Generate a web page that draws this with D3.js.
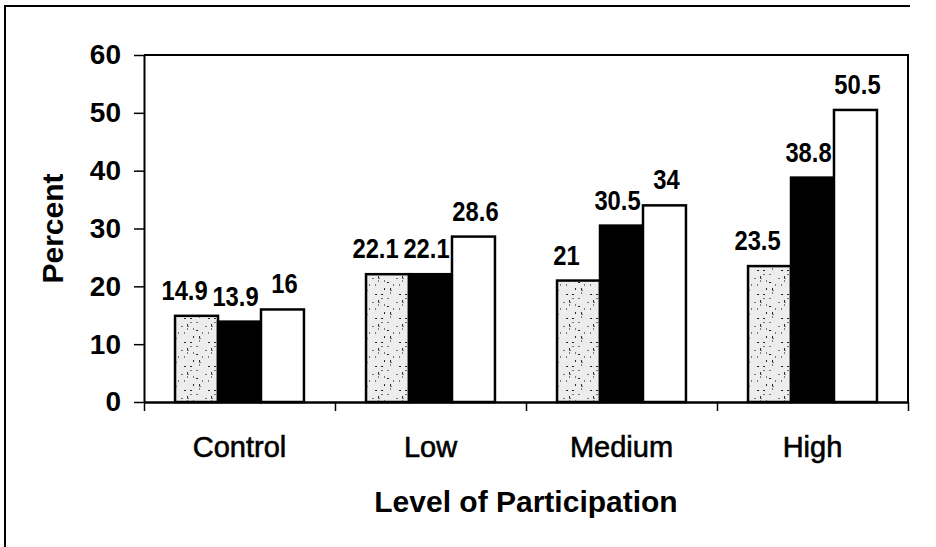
<!DOCTYPE html>
<html>
<head>
<meta charset="utf-8">
<script src="https://cdn.jsdelivr.net/npm/d3@7"></script>
<style>
  html, body { margin: 0; padding: 0; background: #fff; }
  svg { display: block; font-family: "Liberation Sans", Arial, sans-serif; }
</style>
</head>
<body>
<svg id="chart" width="936" height="547"></svg>
<script>
// Percent of participants by level of participation, three groups per level
const categories = ["Control", "Low", "Medium", "High"];
const seriesKeys = ["first", "second", "third"];
const firstValues  = [14.9, 22.1, 21, 23.5];
const secondValues = [13.9, 22.1, 30.5, 38.8];
const thirdValues  = [16, 28.6, 34, 50.5];
const yTicks = [0, 10, 20, 30, 40, 50, 60];
const yTitle = "Percent";
const xTitle = "Level of Participation";

const valuesByKey = { first: firstValues, second: secondValues, third: thirdValues };
const rows = categories.map((c, i) => ({
  category: c,
  items: seriesKeys.map(k => ({ key: k, value: valuesByKey[k][i] }))
}));

const svg = d3.select("#chart");
const plot = { left: 144, right: 908, top: 55, bottom: 402 };

// speckled light-grey fill for the first series
const defs = svg.append("defs");
const pat = defs.append("pattern")
  .attr("id", "speckle").attr("patternUnits", "userSpaceOnUse")
  .attr("width", 24).attr("height", 24);
pat.append("rect").attr("width", 24).attr("height", 24).attr("fill", "#ededed");
d3.range(16).forEach(i => {
  pat.append("rect")
    .attr("x", (i * 7 + (i % 3) * 5) % 24)
    .attr("y", (i * 11 + (i % 4) * 3) % 24)
    .attr("width", 1 + (i % 2)).attr("height", 1 + ((i + 1) % 2))
    .attr("fill", i % 3 === 0 ? "#222" : "#777");
});

const fills = { first: "url(#speckle)", second: "#000", third: "#fff" };

const x0 = d3.scaleBand().domain(categories)
  .range([plot.left, plot.right]).paddingInner(0.325).paddingOuter(0.1625);
const x1 = d3.scaleBand().domain(seriesKeys).range([0, x0.bandwidth()]);
const y = d3.scaleLinear().domain([0, 60]).range([plot.bottom, plot.top]);

// outer frame (left and top edges)
svg.append("path").attr("d", "M5,547V6H910")
  .attr("fill", "none").attr("stroke", "#000").attr("stroke-width", 2);

// plot frame: top and right edges
svg.append("path")
  .attr("d", `M${plot.left},${plot.top}H${plot.right}V${plot.bottom}`)
  .attr("fill", "none").attr("stroke", "#000").attr("stroke-width", 2);

// bars
const groups = svg.append("g").selectAll("g").data(rows).join("g")
  .attr("transform", d => `translate(${x0(d.category)},0)`);

groups.selectAll("rect").data(d => d.items).join("rect")
  .attr("x", d => x1(d.key))
  .attr("y", d => y(d.value))
  .attr("width", x1.bandwidth())
  .attr("height", d => y(0) - y(d.value))
  .attr("fill", d => fills[d.key])
  .attr("stroke", "#000").attr("stroke-width", 2.5);

// value labels, set in a slightly condensed bold face
const labelShift = { first: -12, second: -4, third: 2 };
groups.selectAll("g.value").data(d => d.items).join("g")
  .attr("class", "value")
  .attr("transform", d =>
    `translate(${x1(d.key) + x1.bandwidth() / 2 + labelShift[d.key]},${y(d.value) - 16}) scale(0.88,1)`)
  .append("text")
  .attr("text-anchor", "middle")
  .attr("font-size", 27).attr("font-weight", "bold")
  .attr("fill", "#000")
  .text(d => d.value);

// y axis
const yAxis = svg.append("g").attr("transform", `translate(${plot.left},0)`)
  .call(d3.axisLeft(y).tickValues(yTicks).tickSize(10).tickSizeOuter(0).tickPadding(13));
yAxis.select(".domain").attr("stroke", "#000").attr("stroke-width", 2);
yAxis.selectAll(".tick line").attr("stroke", "#000").attr("stroke-width", 1.5);
yAxis.selectAll(".tick text")
  .attr("font-size", 28).attr("font-weight", "bold")
  .attr("font-family", "Liberation Sans, Arial, sans-serif").attr("fill", "#000");

// x axis: boundary ticks between categories
const xb = d3.scaleLinear().domain([0, categories.length]).range([plot.left, plot.right]);
const xAxis = svg.append("g").attr("transform", `translate(0,${plot.bottom})`)
  .call(d3.axisBottom(xb).tickValues(d3.range(categories.length + 1)).tickSize(9).tickSizeOuter(0).tickFormat(""));
xAxis.select(".domain").attr("stroke", "#000").attr("stroke-width", 2.5);
xAxis.selectAll(".tick line").attr("stroke", "#000").attr("stroke-width", 1.5);

// category labels
const xLabels = svg.append("g").attr("transform", `translate(0,${plot.bottom})`)
  .call(d3.axisBottom(x0).tickSize(0).tickPadding(34));
xLabels.select(".domain").remove();
xLabels.selectAll(".tick text")
  .attr("font-size", 29).attr("font-family", "Liberation Sans, Arial, sans-serif")
  .attr("fill", "#000").attr("stroke", "#000").attr("stroke-width", 0.6);

// axis titles
svg.append("text")
  .attr("transform", `translate(63,${(plot.top + plot.bottom) / 2}) rotate(-90)`)
  .attr("text-anchor", "middle").attr("font-size", 30).attr("font-weight", "bold")
  .text(yTitle);

svg.append("text")
  .attr("x", (plot.left + plot.right) / 2).attr("y", 512)
  .attr("text-anchor", "middle").attr("font-size", 30).attr("font-weight", "bold")
  .text(xTitle);
</script>
</body>
</html>
